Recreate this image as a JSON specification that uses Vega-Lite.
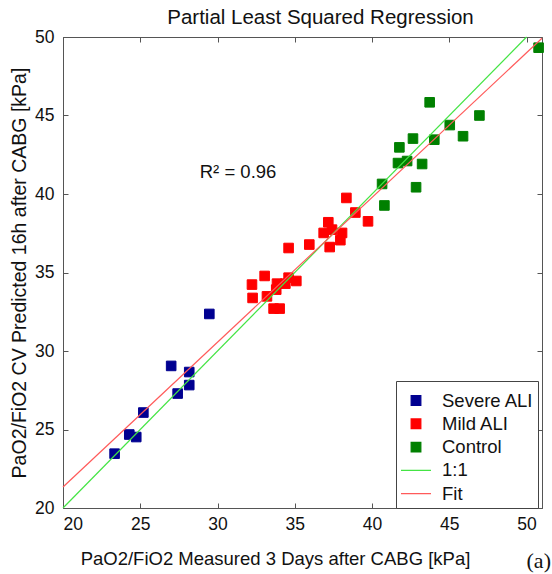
{
  "$schema": "https://vega.github.io/schema/vega-lite/v6.json",
  "width": 479,
  "height": 471,
  "autosize": {"type": "none"},
  "padding": {"left": 63, "top": 37, "right": 10, "bottom": 66},
  "background": "white",
  "title": {"text": "Partial Least Squared Regression", "fontSize": 20.5, "font": "Liberation Sans", "fontWeight": "normal", "color": "#111", "offset": 0, "anchor": "middle", "dx": 18},
  "config": {
    "view": {"stroke": "#555", "strokeWidth": 1},
    "axis": {"grid": false, "domainColor": "#555", "tickColor": "#555", "tickSize": -5, "labelFont": "Liberation Sans", "labelFontSize": 17.5, "labelColor": "#111", "titleFont": "Liberation Sans", "titleFontSize": 18.5, "titleFontWeight": "normal", "titleColor": "#111"},
    "legend": {"strokeColor": "#444", "fillColor": "white", "padding": 4,
      "labelFont": "Liberation Sans", "labelFontSize": 18.5, "labelColor": "#111", "symbolStrokeWidth": 1.3,
      "rowPadding": 4.3, "labelOffset": 10, "labelLimit": 200, "clipHeight": 19, "columns": 1,
      "titleFontSize": 6, "titlePadding": 0, "titleColor": "white"}
  },
  "resolve": {"axis": {"x": "independent", "y": "independent"}},
  "layer": [
    {
      "data": {"values": [
        {"group": "Severe ALI", "measured": 23.34, "predicted": 23.46},
        {"group": "Severe ALI", "measured": 24.29, "predicted": 24.68},
        {"group": "Severe ALI", "measured": 24.74, "predicted": 24.52},
        {"group": "Severe ALI", "measured": 25.2, "predicted": 26.08},
        {"group": "Severe ALI", "measured": 27.0, "predicted": 29.05},
        {"group": "Severe ALI", "measured": 27.42, "predicted": 27.29},
        {"group": "Severe ALI", "measured": 28.17, "predicted": 28.66},
        {"group": "Severe ALI", "measured": 28.17, "predicted": 27.83},
        {"group": "Severe ALI", "measured": 29.47, "predicted": 32.36},
        {"group": "Mild ALI", "measured": 32.23, "predicted": 34.23},
        {"group": "Mild ALI", "measured": 32.27, "predicted": 33.38},
        {"group": "Mild ALI", "measured": 33.05, "predicted": 34.78},
        {"group": "Mild ALI", "measured": 33.2, "predicted": 33.48},
        {"group": "Mild ALI", "measured": 33.85, "predicted": 34.29},
        {"group": "Mild ALI", "measured": 33.8, "predicted": 33.91},
        {"group": "Mild ALI", "measured": 34.39, "predicted": 34.29},
        {"group": "Mild ALI", "measured": 34.6, "predicted": 34.67},
        {"group": "Mild ALI", "measured": 35.1, "predicted": 34.46},
        {"group": "Mild ALI", "measured": 33.63, "predicted": 32.7},
        {"group": "Mild ALI", "measured": 34.02, "predicted": 32.7},
        {"group": "Mild ALI", "measured": 34.6, "predicted": 36.56},
        {"group": "Mild ALI", "measured": 35.94, "predicted": 36.78},
        {"group": "Mild ALI", "measured": 37.26, "predicted": 36.62},
        {"group": "Mild ALI", "measured": 37.95, "predicted": 37.06},
        {"group": "Mild ALI", "measured": 38.06, "predicted": 37.52},
        {"group": "Mild ALI", "measured": 37.41, "predicted": 37.73},
        {"group": "Mild ALI", "measured": 36.87, "predicted": 37.52},
        {"group": "Mild ALI", "measured": 37.17, "predicted": 38.2},
        {"group": "Mild ALI", "measured": 38.34, "predicted": 39.75},
        {"group": "Mild ALI", "measured": 38.92, "predicted": 38.82},
        {"group": "Mild ALI", "measured": 39.74, "predicted": 38.26},
        {"group": "Control", "measured": 40.65, "predicted": 40.64},
        {"group": "Control", "measured": 40.8, "predicted": 39.27},
        {"group": "Control", "measured": 41.68, "predicted": 41.97},
        {"group": "Control", "measured": 41.77, "predicted": 42.97},
        {"group": "Control", "measured": 42.27, "predicted": 42.1},
        {"group": "Control", "measured": 42.65, "predicted": 43.53},
        {"group": "Control", "measured": 42.85, "predicted": 40.43},
        {"group": "Control", "measured": 43.24, "predicted": 41.91},
        {"group": "Control", "measured": 43.73, "predicted": 45.84},
        {"group": "Control", "measured": 44.03, "predicted": 43.46},
        {"group": "Control", "measured": 45.03, "predicted": 44.39},
        {"group": "Control", "measured": 45.89, "predicted": 43.68},
        {"group": "Control", "measured": 46.95, "predicted": 45.0},
        {"group": "Control", "measured": 50.78, "predicted": 49.32}
      ]},
      "mark": {"type": "point", "filled": true, "opacity": 1, "strokeWidth": 1},
      "encoding": {
        "x": {"field": "measured", "type": "quantitative", "scale": {"domain": [20, 51], "nice": false, "zero": false},
              "axis": {"orient": "bottom", "values": [20, 25, 30, 35, 40, 45, 50], "title": "PaO2/FiO2 Measured 3 Days after CABG [kPa]", "labelPadding": 12, "titlePadding": 17, "titleX": 212}},
        "y": {"field": "predicted", "type": "quantitative", "scale": {"domain": [20, 50], "nice": false, "zero": false},
              "axis": {"orient": "left", "values": [20, 25, 30, 35, 40, 45, 50], "title": "PaO2/FiO2 CV Predicted 16h after CABG [kPa]", "labelPadding": 14, "titlePadding": 5, "titleFontSize": 19.5}},
        "fill": {"field": "group", "type": "nominal",
          "scale": {"domain": ["Severe ALI", "Mild ALI", "Control", "1:1", "Fit"], "range": ["#000091", "#ff0000", "#008000", "#44e444", "#ff5a5a"]},
          "legend": {"orient": "none", "legendX": 333, "legendY": 344, "title": " "}},
        "stroke": {"field": "group", "type": "nominal",
          "scale": {"domain": ["Severe ALI", "Mild ALI", "Control", "1:1", "Fit"], "range": ["#000091", "#ff0000", "#008000", "#44e444", "#ff5a5a"]},
          "legend": {"orient": "none", "legendX": 333, "legendY": 344, "title": " "}},
        "shape": {"field": "group", "type": "nominal",
          "scale": {"domain": ["Severe ALI", "Mild ALI", "Control", "1:1", "Fit"], "range": ["square", "square", "square", "stroke", "stroke"]},
          "legend": {"orient": "none", "legendX": 333, "legendY": 344, "title": " "}},
        "size": {"field": "group", "type": "nominal",
          "scale": {"type": "ordinal", "domain": ["Severe ALI", "Mild ALI", "Control", "1:1", "Fit"], "range": [92, 92, 92, 900, 900]},
          "legend": {"orient": "none", "legendX": 333, "legendY": 344, "title": " "}}
      }
    },
    {
      "data": {"values": [{"measured": 20, "predicted": 20}, {"measured": 50, "predicted": 50}]},
      "mark": {"type": "line", "color": "#44e444", "strokeWidth": 1.2},
      "encoding": {
        "x": {"field": "measured", "type": "quantitative", "scale": {"domain": [20, 51], "nice": false, "zero": false},
              "axis": {"orient": "top", "values": [20, 25, 30, 35, 40, 45, 50], "labels": false, "title": null, "domain": false}},
        "y": {"field": "predicted", "type": "quantitative", "scale": {"domain": [20, 50], "nice": false, "zero": false},
              "axis": {"orient": "right", "values": [20, 25, 30, 35, 40, 45, 50], "labels": false, "title": null, "domain": false}}
      }
    },
    {
      "data": {"values": [{"measured": 20, "predicted": 21.34}, {"measured": 51, "predicted": 49.92}]},
      "mark": {"type": "line", "color": "#ff5a5a", "strokeWidth": 1.2},
      "encoding": {
        "x": {"field": "measured", "type": "quantitative", "scale": {"domain": [20, 51], "nice": false, "zero": false}, "axis": null},
        "y": {"field": "predicted", "type": "quantitative", "scale": {"domain": [20, 50], "nice": false, "zero": false}, "axis": null}
      }
    },
    {
      "data": {"values": [{"label": "R² = 0.96", "measured": 31.33, "predicted": 41.42}]},
      "mark": {"type": "text", "font": "Liberation Sans", "fontSize": 18.5, "color": "#111", "align": "center", "baseline": "middle"},
      "encoding": {
        "x": {"field": "measured", "type": "quantitative", "scale": {"domain": [20, 51], "nice": false, "zero": false}, "axis": null},
        "y": {"field": "predicted", "type": "quantitative", "scale": {"domain": [20, 50], "nice": false, "zero": false}, "axis": null},
        "text": {"field": "label"}
      }
    },
    {
      "data": {"values": [{"label": "(a)", "measured": 50.0, "predicted": 16.6}]},
      "mark": {"type": "text", "font": "Liberation Serif", "fontSize": 22, "color": "#111", "align": "left", "baseline": "middle"},
      "encoding": {
        "x": {"field": "measured", "type": "quantitative", "scale": {"domain": [20, 51], "nice": false, "zero": false}, "axis": null},
        "y": {"field": "predicted", "type": "quantitative", "scale": {"domain": [20, 50], "nice": false, "zero": false}, "axis": null},
        "text": {"field": "label"}
      }
    }
  ]
}
